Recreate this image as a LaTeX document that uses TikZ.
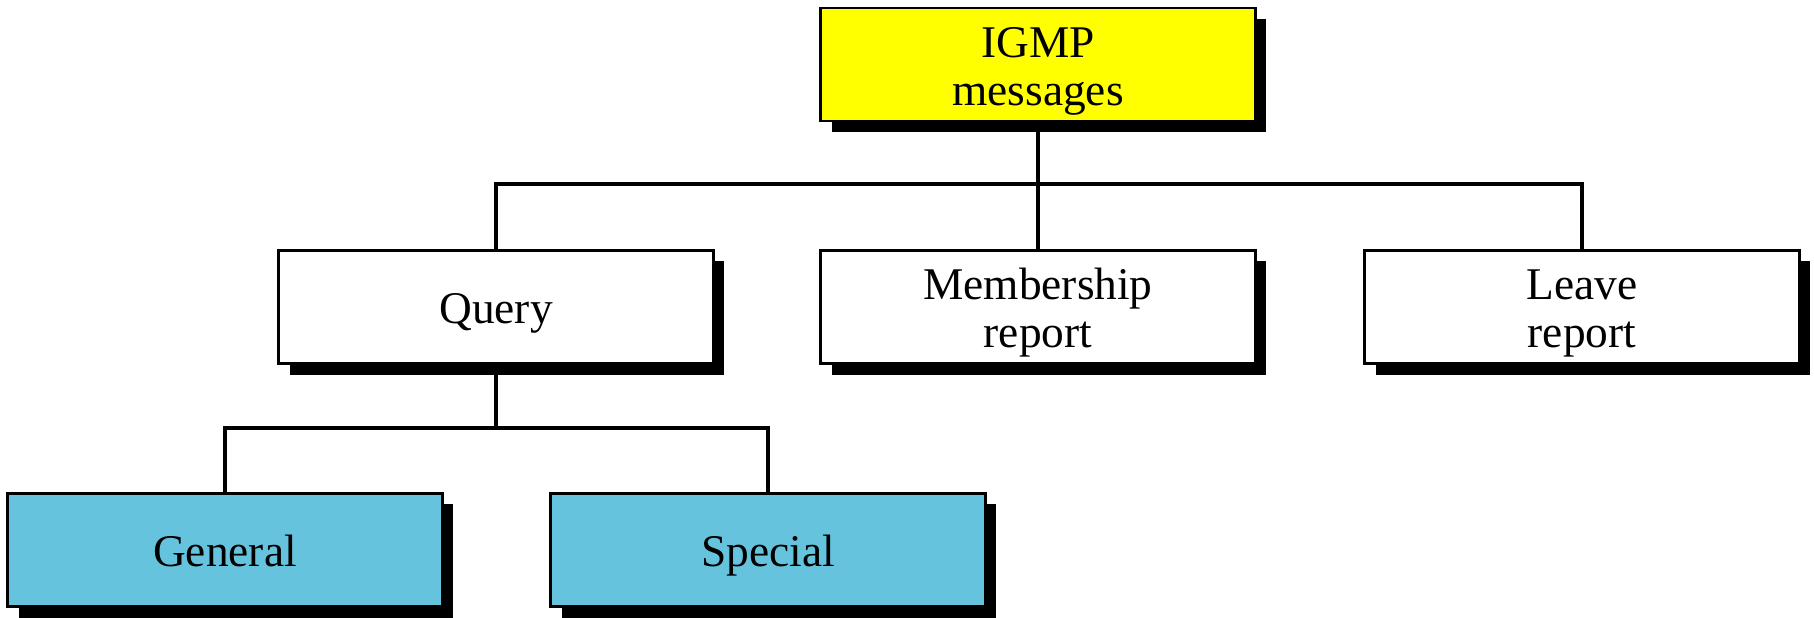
\documentclass[tikz,border=0pt]{standalone}
\usepackage{fontspec}
\setmainfont{Liberation Serif}
\usetikzlibrary{shadows}
\definecolor{topfill}{HTML}{FFFF00}
\definecolor{leaffill}{HTML}{66C3DE}
% centred label lines, set slightly below the box centre
\newcommand\msgtext[1]{\raisebox{-2pt}[\height][\depth]{\begin{tabular}{@{}c@{}}#1\end{tabular}}}
\begin{document}
\begin{tikzpicture}[x=0.01cm,y=-0.01cm,
  msgbox/.style={draw, line width=0.8pt, fill=white,
    minimum width=4.34cm, minimum height=1.13cm, inner sep=0pt,
    font=\fontsize{12.9}{13.6}\selectfont,
    drop shadow={shadow xshift=0.11cm, shadow yshift=-0.11cm,
      fill=black, opacity=1}},
  link/.style={line width=1pt}]
\useasboundingbox (0,0) rectangle (1814,617);

% top level
\node[msgbox, fill=topfill] (igmp) at (1038,64.5) {\msgtext{IGMP\\messages}};

% message types
\node[msgbox] (query)  at (496,307)  {\msgtext{Query}};
\node[msgbox] (member) at (1038,307) {\msgtext{Membership\\report}};
\node[msgbox] (leave)  at (1582,307) {\msgtext{Leave\\report}};

% query kinds
\node[msgbox, fill=leaffill] (general) at (225,550) {\msgtext{General}};
\node[msgbox, fill=leaffill] (special) at (768,550) {\msgtext{Special}};

% tree connectors
\coordinate (bus)  at (1038,184);
\coordinate (qbus) at (496,428);
\draw[link] (igmp.south) -- (member.north);
\draw[link] (query.north) -- (query.north |- bus) -- (leave.north |- bus) -- (leave.north);
\draw[link] (query.south) -- (qbus);
\draw[link] (general.north) -- (general.north |- qbus) -- (special.north |- qbus) -- (special.north);
\end{tikzpicture}
\end{document}
